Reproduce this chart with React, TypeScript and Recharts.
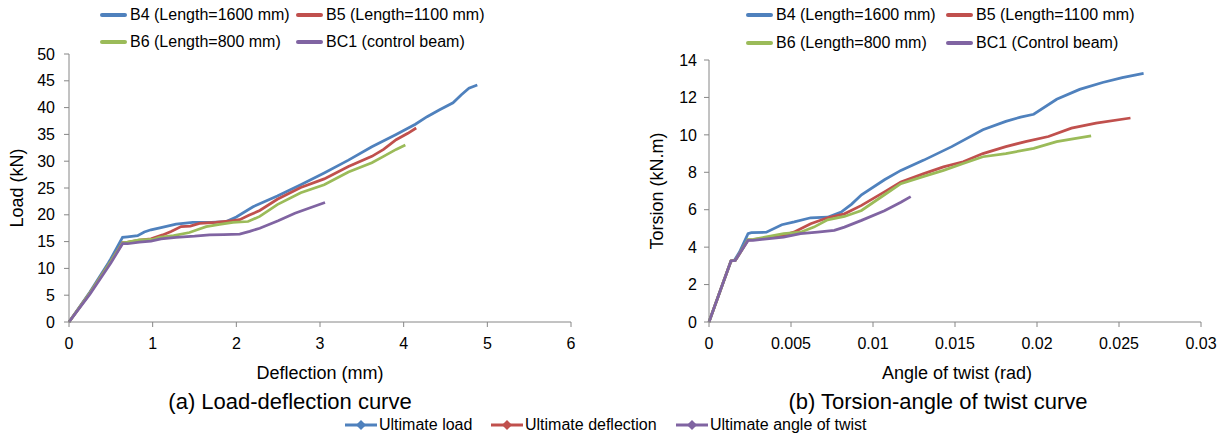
import { Line, LineChart, XAxis, YAxis } from 'recharts'

const FONT = '"Liberation Sans", Arial, sans-serif'
const AXIS_GREY = '#868686'

const COLORS = { b4: '#4f81bd', b5: '#c0504d', b6: '#9bbb59', bc1: '#8064a2' }

// (a) load-deflection
const B4_DEFLECTION = [0, 0.25, 0.47, 0.5, 0.64, 0.7, 0.82, 0.9, 0.98, 1.1, 1.28, 1.48, 1.7, 1.88, 2.0, 2.2, 2.49, 2.77, 3.05, 3.34, 3.62, 3.91, 4.14, 4.28, 4.43, 4.59, 4.69, 4.78, 4.88]
const B4_LOAD = [0, 5.6, 11.0, 11.8, 15.8, 15.9, 16.1, 16.8, 17.2, 17.6, 18.25, 18.6, 18.6, 18.75, 19.6, 21.5, 23.5, 25.6, 27.8, 30.2, 32.7, 35.0, 36.9, 38.3, 39.6, 40.9, 42.4, 43.6, 44.2]
const B5_DEFLECTION = [0, 0.25, 0.47, 0.5, 0.64, 0.68, 0.84, 0.98, 1.12, 1.22, 1.34, 1.45, 1.56, 1.75, 1.96, 2.04, 2.15, 2.28, 2.49, 2.77, 3.05, 3.34, 3.62, 3.76, 3.91, 4.05, 4.15]
const B5_LOAD = [0, 5.4, 10.6, 11.3, 14.8, 14.8, 15.3, 15.5, 16.25, 16.9, 17.8, 17.9, 18.4, 18.6, 18.9, 19.1, 19.9, 20.8, 22.9, 25.1, 26.7, 29.0, 30.9, 32.2, 34.0, 35.2, 36.2]
const B6_DEFLECTION = [0, 0.25, 0.47, 0.5, 0.64, 0.7, 0.84, 1.0, 1.08, 1.25, 1.44, 1.55, 1.64, 1.8, 1.96, 2.14, 2.28, 2.49, 2.77, 3.05, 3.34, 3.62, 3.76, 3.91, 4.02]
const B6_LOAD = [0, 5.4, 10.6, 11.3, 14.8, 14.9, 15.3, 15.4, 15.8, 16.1, 16.7, 17.3, 17.8, 18.2, 18.6, 18.75, 19.7, 21.9, 24.1, 25.6, 28.0, 29.7, 30.9, 32.2, 33.0]
const BC1_DEFLECTION = [0, 0.25, 0.47, 0.5, 0.64, 0.7, 0.84, 0.98, 1.1, 1.28, 1.5, 1.68, 1.85, 2.04, 2.16, 2.28, 2.5, 2.7, 2.9, 3.06]
const BC1_LOAD = [0, 5.2, 10.3, 11.0, 14.6, 14.6, 14.9, 15.1, 15.5, 15.8, 16.0, 16.25, 16.3, 16.4, 16.9, 17.5, 18.9, 20.3, 21.4, 22.3]

// (b) torsion-angle of twist
const B4_TWIST = [0, 0.0008, 0.00134, 0.00155, 0.00186, 0.00238, 0.00258, 0.0035, 0.00444, 0.0052, 0.0062, 0.00723, 0.00806, 0.0087, 0.0093, 0.0107, 0.0117, 0.0131, 0.0148, 0.0167, 0.0181, 0.019, 0.0198, 0.0212, 0.0226, 0.024, 0.0252, 0.0265]
const B4_TORSION = [0, 1.95, 3.26, 3.3, 3.74, 4.72, 4.77, 4.8, 5.2, 5.35, 5.57, 5.6, 5.87, 6.3, 6.8, 7.6, 8.1, 8.65, 9.37, 10.27, 10.72, 10.95, 11.1, 11.9, 12.43, 12.8, 13.06, 13.28]
const B5_TWIST = [0, 0.0008, 0.00134, 0.0016, 0.00186, 0.00238, 0.0027, 0.0035, 0.0045, 0.00517, 0.0062, 0.00723, 0.00826, 0.0093, 0.0107, 0.0117, 0.0131, 0.0143, 0.0155, 0.0167, 0.0181, 0.0193, 0.0207, 0.0221, 0.0236, 0.0257]
const B5_TORSION = [0, 1.95, 3.26, 3.29, 3.65, 4.38, 4.4, 4.5, 4.62, 4.8, 5.25, 5.57, 5.78, 6.23, 6.95, 7.48, 7.93, 8.29, 8.56, 9.0, 9.37, 9.64, 9.91, 10.36, 10.63, 10.9]
const B6_TWIST = [0, 0.0008, 0.00134, 0.0016, 0.00186, 0.00238, 0.0027, 0.0035, 0.00455, 0.00558, 0.0064, 0.00723, 0.00826, 0.0093, 0.0107, 0.0117, 0.0131, 0.0143, 0.0155, 0.0167, 0.0181, 0.0198, 0.0212, 0.0221, 0.0233]
const B6_TORSION = [0, 1.95, 3.26, 3.29, 3.65, 4.4, 4.42, 4.55, 4.72, 4.8, 5.07, 5.46, 5.64, 5.96, 6.8, 7.39, 7.78, 8.1, 8.47, 8.83, 9.0, 9.28, 9.64, 9.77, 9.95]
const BC1_TWIST = [0, 0.0008, 0.00134, 0.0016, 0.00186, 0.00238, 0.00269, 0.00455, 0.00558, 0.00661, 0.00764, 0.00826, 0.0093, 0.0107, 0.0117, 0.0123]
const BC1_TORSION = [0, 1.95, 3.26, 3.29, 3.65, 4.36, 4.36, 4.54, 4.72, 4.8, 4.9, 5.07, 5.43, 5.95, 6.4, 6.7]

const DEFLECTION_TICKS = [0, 1, 2, 3, 4, 5, 6]
const LOAD_TICKS = [0, 5, 10, 15, 20, 25, 30, 35, 40, 45, 50]
const TWIST_TICKS = [0, 0.005, 0.01, 0.015, 0.02, 0.025, 0.03]
const TORSION_TICKS = [0, 2, 4, 6, 8, 10, 12, 14]

const zip = (xs: number[], ys: number[]) => xs.map((x, i) => ({ x, y: ys[i] }))

const tickStyle = { fill: '#000', fontSize: 16, fontFamily: FONT }

// recharts clones the label and passes its own x/y, so use other prop names
function AxisTitle({ posX, posY, text, vertical }: { posX: number; posY: number; text: string; vertical?: boolean }) {
  return (
    <text
      x={posX}
      y={posY}
      textAnchor="middle"
      dominantBaseline="central"
      transform={vertical ? `rotate(-90 ${posX} ${posY})` : undefined}
      fontFamily={FONT}
      fontSize={18}
      fill="#000"
    >
      {text}
    </text>
  )
}

function LegendLine({ left, top, color, label }: { left: number; top: number; color: string; label: string }) {
  return (
    <div style={{ position: 'absolute', left, top: top - 10, height: 20, display: 'flex', alignItems: 'center', whiteSpace: 'nowrap' }}>
      <div style={{ width: 27, height: 3.5, background: color, borderRadius: 2, marginRight: 3 }} />
      <span style={{ fontSize: 16, color: '#000' }}>{label}</span>
    </div>
  )
}

function MarkerLegend({ left, color, label }: { left: number; color: string; label: string }) {
  return (
    <div style={{ position: 'absolute', left, top: 415, height: 20, display: 'flex', alignItems: 'center', whiteSpace: 'nowrap' }}>
      <svg width={32} height={12} style={{ marginRight: 2 }}>
        <line x1={0} y1={6} x2={32} y2={6} stroke={color} strokeWidth={3} />
        <polygon points="16,1 21,6 16,11 11,6" fill={color} />
      </svg>
      <span style={{ fontSize: 16, color: '#000' }}>{label}</span>
    </div>
  )
}

function BorderAxes() {
  return [
    <XAxis key="top" xAxisId="top" orientation="top" type="number" domain={[0, 1]} height={0} tick={false} tickLine={false} axisLine={{ stroke: '#7f7f7f' }} />,
    <YAxis key="right" yAxisId="right" orientation="right" type="number" domain={[0, 1]} width={0} tick={false} tickLine={false} axisLine={{ stroke: '#000' }} />,
  ]
}

export default function App() {
  return (
    <div style={{ position: 'absolute', left: 0, top: 0, width: 1232, height: 436, background: '#fff', fontFamily: FONT, overflow: 'hidden' }}>
      <div style={{ position: 'absolute', left: 0, top: 0 }}>
        <LineChart width={600} height={436} margin={{ top: 54, right: 29, bottom: 0, left: 0 }}>
          <XAxis
            type="number"
            dataKey="x"
            domain={[0, 6]}
            ticks={DEFLECTION_TICKS}
            height={114}
            tick={tickStyle}
            tickSize={5}
            tickMargin={11}
            axisLine={{ stroke: AXIS_GREY }}
            tickLine={{ stroke: AXIS_GREY }}
            label={<AxisTitle posX={320} posY={373} text="Deflection (mm)" />}
          />
          <YAxis
            type="number"
            domain={[0, 50]}
            ticks={LOAD_TICKS}
            width={69}
            tick={tickStyle}
            tickSize={5}
            tickMargin={9}
            axisLine={{ stroke: AXIS_GREY }}
            tickLine={{ stroke: AXIS_GREY }}
            label={<AxisTitle posX={17} posY={188} text="Load (kN)" vertical />}
          />
          {BorderAxes()}
          <Line data={zip(B4_DEFLECTION, B4_LOAD)} dataKey="y" stroke={COLORS.b4} strokeWidth={2.75} dot={false} isAnimationActive={false} />
          <Line data={zip(B5_DEFLECTION, B5_LOAD)} dataKey="y" stroke={COLORS.b5} strokeWidth={2.75} dot={false} isAnimationActive={false} />
          <Line data={zip(B6_DEFLECTION, B6_LOAD)} dataKey="y" stroke={COLORS.b6} strokeWidth={2.75} dot={false} isAnimationActive={false} />
          <Line data={zip(BC1_DEFLECTION, BC1_LOAD)} dataKey="y" stroke={COLORS.bc1} strokeWidth={2.75} dot={false} isAnimationActive={false} />
        </LineChart>
      </div>

      <div style={{ position: 'absolute', left: 620, top: 0 }}>
        <LineChart width={612} height={436} margin={{ top: 60, right: 31, bottom: 0, left: 0 }}>
          <XAxis
            type="number"
            dataKey="x"
            domain={[0, 0.03]}
            ticks={TWIST_TICKS}
            tickFormatter={(v) => String(v)}
            height={114}
            tick={tickStyle}
            tickSize={5}
            tickMargin={11}
            axisLine={{ stroke: AXIS_GREY }}
            tickLine={{ stroke: AXIS_GREY }}
            label={<AxisTitle posX={337} posY={373} text="Angle of twist (rad)" />}
          />
          <YAxis
            type="number"
            domain={[0, 14]}
            ticks={TORSION_TICKS}
            width={89}
            tick={tickStyle}
            tickSize={5}
            tickMargin={7}
            axisLine={{ stroke: AXIS_GREY }}
            tickLine={{ stroke: AXIS_GREY }}
            label={<AxisTitle posX={37} posY={191} text="Torsion (kN.m)" vertical />}
          />
          {BorderAxes()}
          <Line data={zip(B4_TWIST, B4_TORSION)} dataKey="y" stroke={COLORS.b4} strokeWidth={2.75} dot={false} isAnimationActive={false} />
          <Line data={zip(B5_TWIST, B5_TORSION)} dataKey="y" stroke={COLORS.b5} strokeWidth={2.75} dot={false} isAnimationActive={false} />
          <Line data={zip(B6_TWIST, B6_TORSION)} dataKey="y" stroke={COLORS.b6} strokeWidth={2.75} dot={false} isAnimationActive={false} />
          <Line data={zip(BC1_TWIST, BC1_TORSION)} dataKey="y" stroke={COLORS.bc1} strokeWidth={2.75} dot={false} isAnimationActive={false} />
        </LineChart>
      </div>

      <LegendLine left={100} top={15} color={COLORS.b4} label="B4 (Length=1600 mm)" />
      <LegendLine left={296} top={15} color={COLORS.b5} label="B5 (Length=1100 mm)" />
      <LegendLine left={100} top={42} color={COLORS.b6} label="B6 (Length=800 mm)" />
      <LegendLine left={296} top={42} color={COLORS.bc1} label="BC1 (control beam)" />

      <LegendLine left={746} top={15} color={COLORS.b4} label="B4 (Length=1600 mm)" />
      <LegendLine left={946} top={15} color={COLORS.b5} label="B5 (Length=1100 mm)" />
      <LegendLine left={746} top={43} color={COLORS.b6} label="B6 (Length=800 mm)" />
      <LegendLine left={946} top={43} color={COLORS.bc1} label="BC1 (Control beam)" />

      <div style={{ position: 'absolute', left: 290, top: 402, transform: 'translate(-50%, -50%)', fontSize: 22, whiteSpace: 'nowrap' }}>
        (a) Load-deflection curve
      </div>
      <div style={{ position: 'absolute', left: 938, top: 402, transform: 'translate(-50%, -50%)', fontSize: 22, whiteSpace: 'nowrap' }}>
        (b) Torsion-angle of twist curve
      </div>

      <MarkerLegend left={345} color={COLORS.b4} label="Ultimate load" />
      <MarkerLegend left={491} color={COLORS.b5} label="Ultimate deflection" />
      <MarkerLegend left={676} color={COLORS.bc1} label="Ultimate angle of twist" />
    </div>
  )
}
